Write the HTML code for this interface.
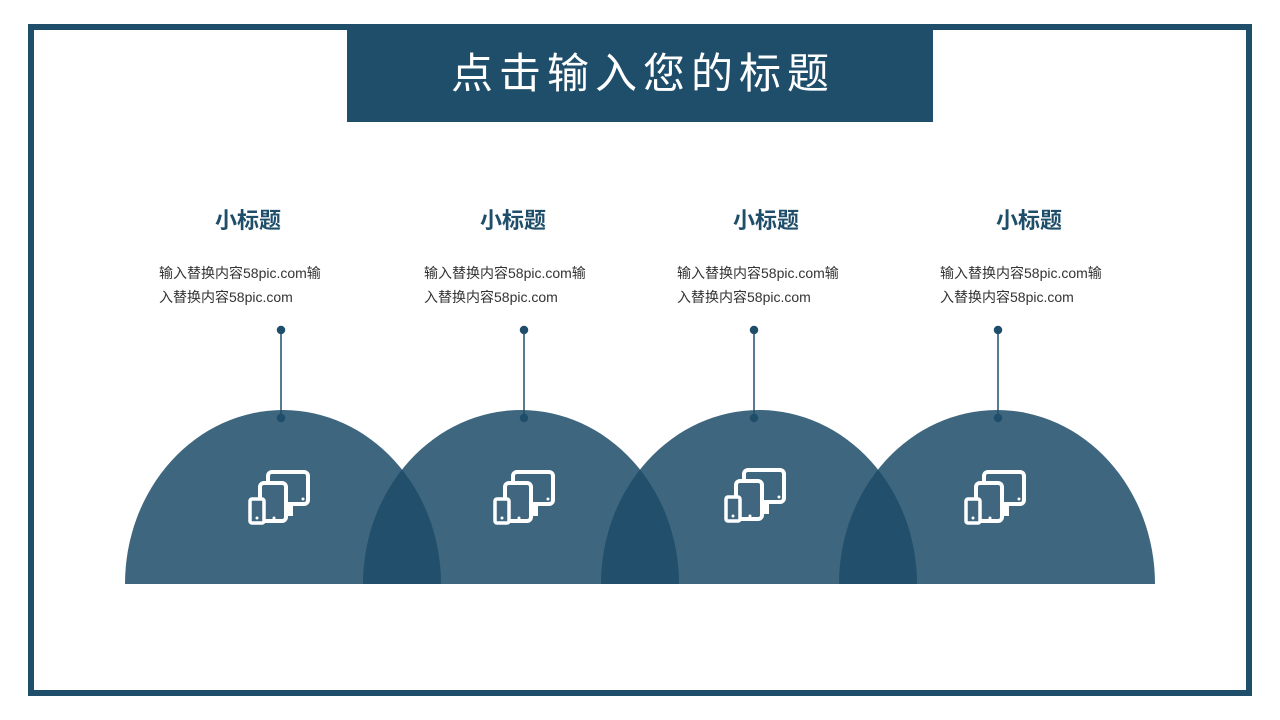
<!DOCTYPE html>
<html><head><meta charset="utf-8"><style>
html,body{margin:0;width:1280px;height:720px;overflow:hidden}
body{background:#fff;position:relative;font-family:"Liberation Sans","Noto Sans CJK SC",sans-serif}
.frame{position:absolute;left:28px;top:24px;width:1212px;height:660px;border:6px solid #1f4e6b;box-sizing:content-box}
.title{position:absolute;left:347px;top:24px;width:586px;height:98px;background:#1f4e6b;color:#fff;font-size:42px;letter-spacing:6px;text-align:center;line-height:100px;text-indent:6px}
.st{position:absolute;width:200px;text-align:center;font-size:22px;font-weight:bold;color:#1f4e6b;top:203px}
.tx{position:absolute;font-size:14px;color:#333;line-height:24px;top:261px;width:200px;white-space:nowrap}
svg{display:block}
</style></head><body>
<div class="frame"></div>
<div class="title">点击输入您的标题</div>
<div class="st" style="left:148px">小标题</div>
<div class="st" style="left:413px">小标题</div>
<div class="st" style="left:666px">小标题</div>
<div class="st" style="left:929px">小标题</div>
<div class="tx" style="left:159px">输入替换内容58pic.com输<br>入替换内容58pic.com</div>
<div class="tx" style="left:424px">输入替换内容58pic.com输<br>入替换内容58pic.com</div>
<div class="tx" style="left:677px">输入替换内容58pic.com输<br>入替换内容58pic.com</div>
<div class="tx" style="left:940px">输入替换内容58pic.com输<br>入替换内容58pic.com</div>
<svg width="1280" height="700" style="position:absolute;left:0;top:0">
<defs><clipPath id="c"><rect x="0" y="0" width="1280" height="584"/></clipPath>
<g id="ic">
<rect x="-12" y="-25" width="40" height="32" rx="4" fill="none" stroke="#fff" stroke-width="4"/>
<rect x="0" y="7" width="13" height="12" fill="#fff"/>
<rect x="-20" y="-14" width="26" height="38" rx="4" fill="#40677f" stroke="#fff" stroke-width="4"/>
<rect x="-30" y="2" width="14" height="24" rx="2" fill="#40677f" stroke="#fff" stroke-width="3.5"/>
<circle cx="-23" cy="21" r="1.5" fill="#fff"/><circle cx="-6" cy="21" r="1.5" fill="#fff"/><circle cx="23" cy="2" r="1.5" fill="#fff"/>
</g></defs>
<g clip-path="url(#c)" fill="rgb(28,75,105)" fill-opacity="0.85">
<ellipse cx="283" cy="584" rx="158" ry="174"/>
<ellipse cx="521" cy="584" rx="158" ry="174"/>
<ellipse cx="759" cy="584" rx="158" ry="174"/>
<ellipse cx="997" cy="584" rx="158" ry="174"/>
</g>
<g stroke="#1f4e6b" stroke-width="1.5" fill="#1f4e6b">
<line x1="281" y1="330" x2="281" y2="418"/><circle cx="281" cy="330" r="3.5"/><circle cx="281" cy="418" r="3.5"/>
<line x1="524" y1="330" x2="524" y2="418"/><circle cx="524" cy="330" r="3.5"/><circle cx="524" cy="418" r="3.5"/>
<line x1="754" y1="330" x2="754" y2="418"/><circle cx="754" cy="330" r="3.5"/><circle cx="754" cy="418" r="3.5"/>
<line x1="998" y1="330" x2="998" y2="418"/><circle cx="998" cy="330" r="3.5"/><circle cx="998" cy="418" r="3.5"/>
</g>
<use href="#ic" x="280" y="497"/>
<use href="#ic" x="525" y="497"/>
<use href="#ic" x="756" y="495"/>
<use href="#ic" x="996" y="497"/>
</svg>
</body></html>
